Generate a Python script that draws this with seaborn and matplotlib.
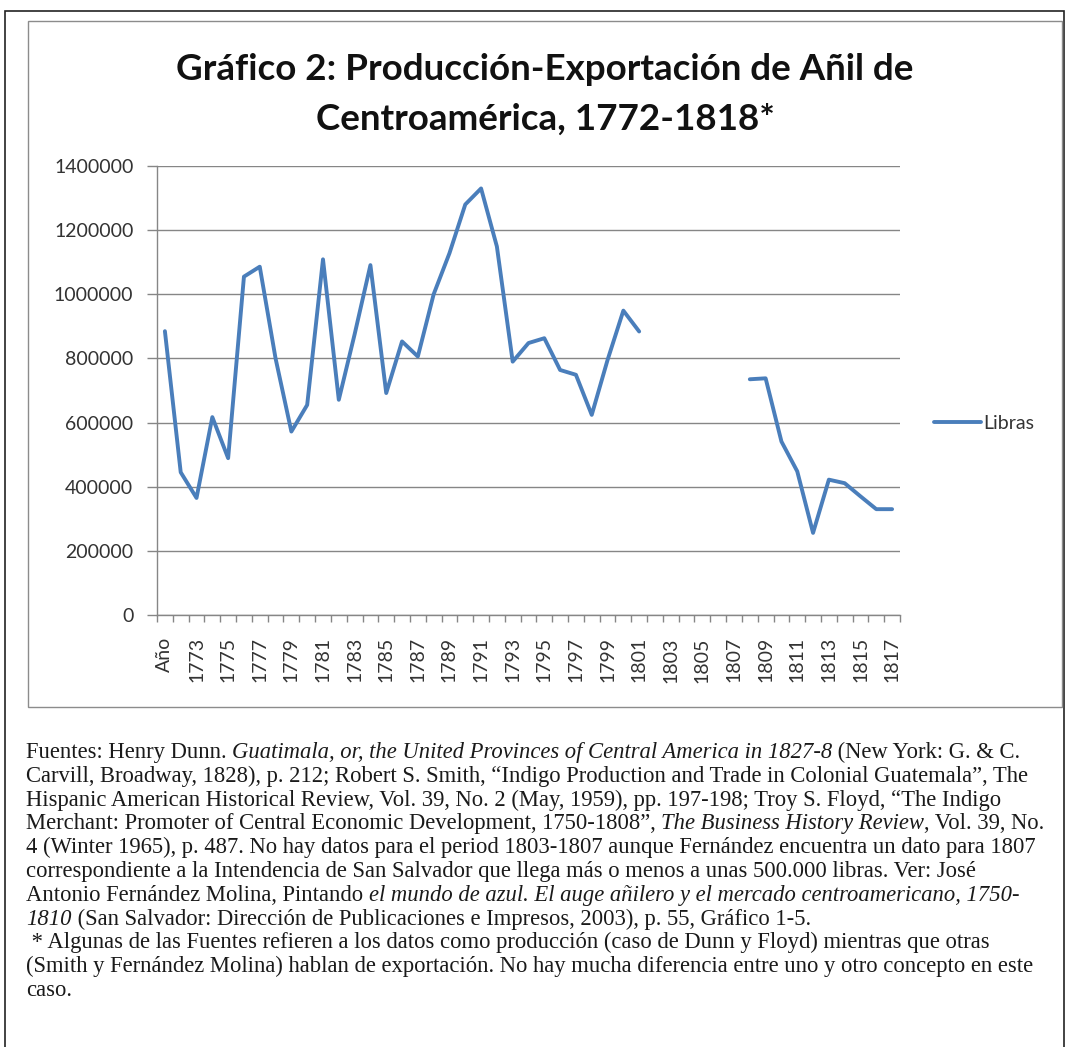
import numpy as np
import pandas as pd
import matplotlib
matplotlib.use("Agg")
import matplotlib.pyplot as plt
from matplotlib.lines import Line2D
from matplotlib.patches import Rectangle
from matplotlib.ticker import FuncFormatter
import seaborn as sns

# categorias del eje x tal como salen en la hoja (la primera quedo como "Año")
anios = ["Año"] + [str(a) for a in range(1772, 1818)]
# libras de añil por categoria (None = sin datos, 1802-1807)
libras = [885000, 445000, 365000, 617000, 489000, 1055000, 1086000, 800000, 572000, 655000,
          1109000, 671000, 875000, 1091000, 692000, 853000, 806000, 1000000, 1128000, 1280000,
          1330000, 1149000, 790000, 848000, 863000, 764000, 749000, 624000, 795000, 949000,
          884000, None, None, None, None, None, None, 735000, 738000, 541000,
          448000, 256000, 422000, 411000, 370000, 330000, 330000]
serie = "Libras"

titulo = ["Gráfico 2: Producción-Exportación de Añil de", "Centroamérica, 1772-1818*"]

# nota al pie: cada renglon es una lista de (texto, cursiva)
nota = [
    [("Fuentes: Henry Dunn. ", False), ("Guatimala, or, the United Provinces of Central America in 1827-8", True),
     (" (New York: G. & C.", False)],
    [("Carvill, Broadway, 1828), p. 212; Robert S. Smith, \u201cIndigo Production and Trade in Colonial Guatemala\u201d, The", False)],
    [("Hispanic American Historical Review, Vol. 39, No. 2 (May, 1959), pp. 197-198; Troy S. Floyd, \u201cThe Indigo", False)],
    [("Merchant: Promoter of Central Economic Development, 1750-1808\u201d, ", False), ("The Business History Review", True),
     (", Vol. 39, No.", False)],
    [("4 (Winter 1965), p. 487. No hay datos para el period 1803-1807 aunque Fernández encuentra un dato para 1807", False)],
    [("correspondiente a la Intendencia de San Salvador que llega más o menos a unas 500.000 libras. Ver: José", False)],
    [("Antonio Fernández Molina, Pintando ", False),
     ("el mundo de azul. El auge añilero y el mercado centroamericano, 1750-", True)],
    [("1810", True), (" (San Salvador: Dirección de Publicaciones e Impresos, 2003), p. 55, Gráfico 1-5.", False)],
    [(" * Algunas de las Fuentes refieren a los datos como producción (caso de Dunn y Floyd) mientras que otras", False)],
    [("(Smith y Fernández Molina) hablan de exportación. No hay mucha diferencia entre uno y otro concepto en este", False)],
    [("caso.", False)],
]

df = pd.DataFrame({"anio": anios, "libras": libras})
df["pos"] = np.arange(len(df))
df["tramo"] = df["libras"].isna().cumsum()
df = df.dropna()

sns.set_style("white")
plt.rcParams["font.family"] = ["Lato", "DejaVu Sans"]

W, H = 1065, 1047
fig = plt.figure(figsize=(W / 100, H / 100), dpi=100)

# marcos
fig.add_artist(Rectangle((5 / W, -0.01), 1059 / W, 1 - 11 / H + 0.01, transform=fig.transFigure,
                         fill=False, edgecolor="#222222", linewidth=1.2))
fig.add_artist(Rectangle((28 / W, 1 - 707 / H), 1034 / W, 686 / H, transform=fig.transFigure,
                         fill=False, edgecolor="#8c8c8c", linewidth=1.0))

ax = fig.add_axes([157 / W, 1 - 615 / H, 743 / W, 449 / H])
azul = "#4A7EBB"
sns.lineplot(data=df, x="pos", y="libras", units="tramo", estimator=None,
             color=azul, linewidth=2.8, ax=ax, legend=False)

ax.set_xlim(-0.5, len(anios) - 0.5)
ax.set_ylim(0, 1400000)
ax.set_xlabel("")
ax.set_ylabel("")

gris = "#868686"
ax.set_yticks(np.arange(0, 1400001, 200000))
ax.yaxis.set_major_formatter(FuncFormatter(lambda v, p: f"{int(v)}"))
ax.yaxis.grid(True, color=gris, linewidth=1)
ax.xaxis.grid(False)
ax.tick_params(axis="y", length=7, width=1, color=gris, pad=10, labelsize=14, labelcolor="#333333", left=True)

ax.set_xticks(np.arange(-0.5, len(anios), 1))
ax.set_xticklabels([])
ax.set_xticks(np.arange(0, len(anios), 2), minor=True)
ax.set_xticklabels(anios[::2], minor=True, rotation=90)
ax.tick_params(axis="x", which="major", length=5, width=1, color=gris, bottom=True)
ax.tick_params(axis="x", which="minor", length=0, pad=16, labelsize=14, labelcolor="#333333")

for lado in ["top", "right"]:
    ax.spines[lado].set_visible(False)
for lado in ["left", "bottom"]:
    ax.spines[lado].set_color(gris)
    ax.spines[lado].set_linewidth(1)

ax.legend(handles=[Line2D([0], [0], color=azul, linewidth=2.8)], labels=[serie],
          loc="center left", bbox_to_anchor=(934 / W, 1 - 423 / H), bbox_transform=fig.transFigure,
          frameon=False, fontsize=14, handlelength=2.4, handletextpad=0.15,
          borderpad=0, borderaxespad=0, labelcolor="#333333")

# titulo
fig.text(545 / W, 1 - 80 / H, titulo[0], ha="center", va="baseline", fontsize=26.5, fontweight="bold", color="#111111")
fig.text(545 / W, 1 - 130 / H, titulo[1], ha="center", va="baseline", fontsize=26.5, fontweight="bold", color="#111111")

# nota al pie, renglon por renglon
r = fig.canvas.get_renderer()
tam = 16.3
fuente = "Liberation Serif"


def ancho(texto, estilo):
    t = fig.text(0, 0, texto + "|", fontsize=tam, family=fuente, style=estilo)
    b = fig.text(0, 0, "|", fontsize=tam, family=fuente, style=estilo)
    w = t.get_window_extent(r).width - b.get_window_extent(r).width
    t.remove()
    b.remove()
    return w


for i, renglon in enumerate(nota):
    x = 26
    y = 758 + i * 23.8
    for texto, cursiva in renglon:
        estilo = "italic" if cursiva else "normal"
        fig.text(x / W, 1 - y / H, texto, fontsize=tam, family=fuente, style=estilo,
                 va="baseline", ha="left", color="#1a1a1a")
        x += ancho(texto, estilo)

fig.savefig("out.png", dpi=100)
